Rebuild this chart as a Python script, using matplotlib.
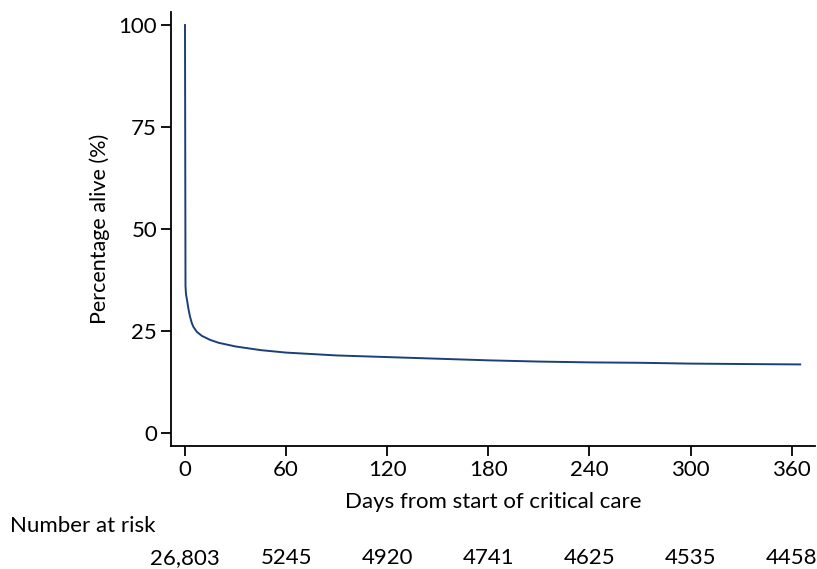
import matplotlib
matplotlib.use("Agg")
import matplotlib.pyplot as plt

plt.rcParams['font.family'] = ['Lato', 'DejaVu Sans']

# Kaplan-Meier style survival curve
days = [0, 0.0, 0.3, 0.6, 1.2, 2, 3, 4, 5, 7, 10, 15, 20, 30, 45, 60,
        90, 120, 150, 180, 210, 240, 270, 300, 330, 365]
alive = [100, 100, 36.0, 34.0, 32.6, 30.5, 28.5, 27.0, 26.0, 24.8, 23.8, 22.8,
         22.1, 21.2, 20.3, 19.7, 19.0, 18.6, 18.2, 17.8, 17.5, 17.3, 17.2,
         17.0, 16.9, 16.8]

xticks = [0, 60, 120, 180, 240, 300, 360]
yticks = [0, 25, 50, 75, 100]
at_risk = ['26,803', '5245', '4920', '4741', '4625', '4535', '4458']

W, H = 817, 569
fig = plt.figure(figsize=(W / 100, H / 100), dpi=100)
ax = fig.add_axes([171 / W, 1 - 446 / H, (815 - 171) / W, (446 - 12) / H])

ax.plot(days, alive, color='#1b3f78', lw=1.4)

ax.set_xlim(-8.3, 373.8)
ax.set_ylim(-3.2, 103.2)
ax.set_xticks(xticks)
ax.set_yticks(yticks)
ax.tick_params(labelsize=16, length=7, width=1.3, direction='out', pad=3)
for s in ['top', 'right']:
    ax.spines[s].set_visible(False)
for s in ['left', 'bottom']:
    ax.spines[s].set_linewidth(1.3)

ax.set_ylabel('Percentage alive (%)', fontsize=15.5, labelpad=6)
ax.set_xlabel('Days from start of critical care', fontsize=16, labelpad=9)

# number at risk table
fig.text(10 / W, 1 - 526 / H, 'Number at risk', fontsize=16, va='center', ha='left')
for d, n in zip(xticks, at_risk):
    ax.text(d, -(558 - 446) / (446 - 12), n, transform=ax.get_xaxis_transform(),
            fontsize=16, ha='center', va='center')

fig.savefig('out.png', dpi=100)
